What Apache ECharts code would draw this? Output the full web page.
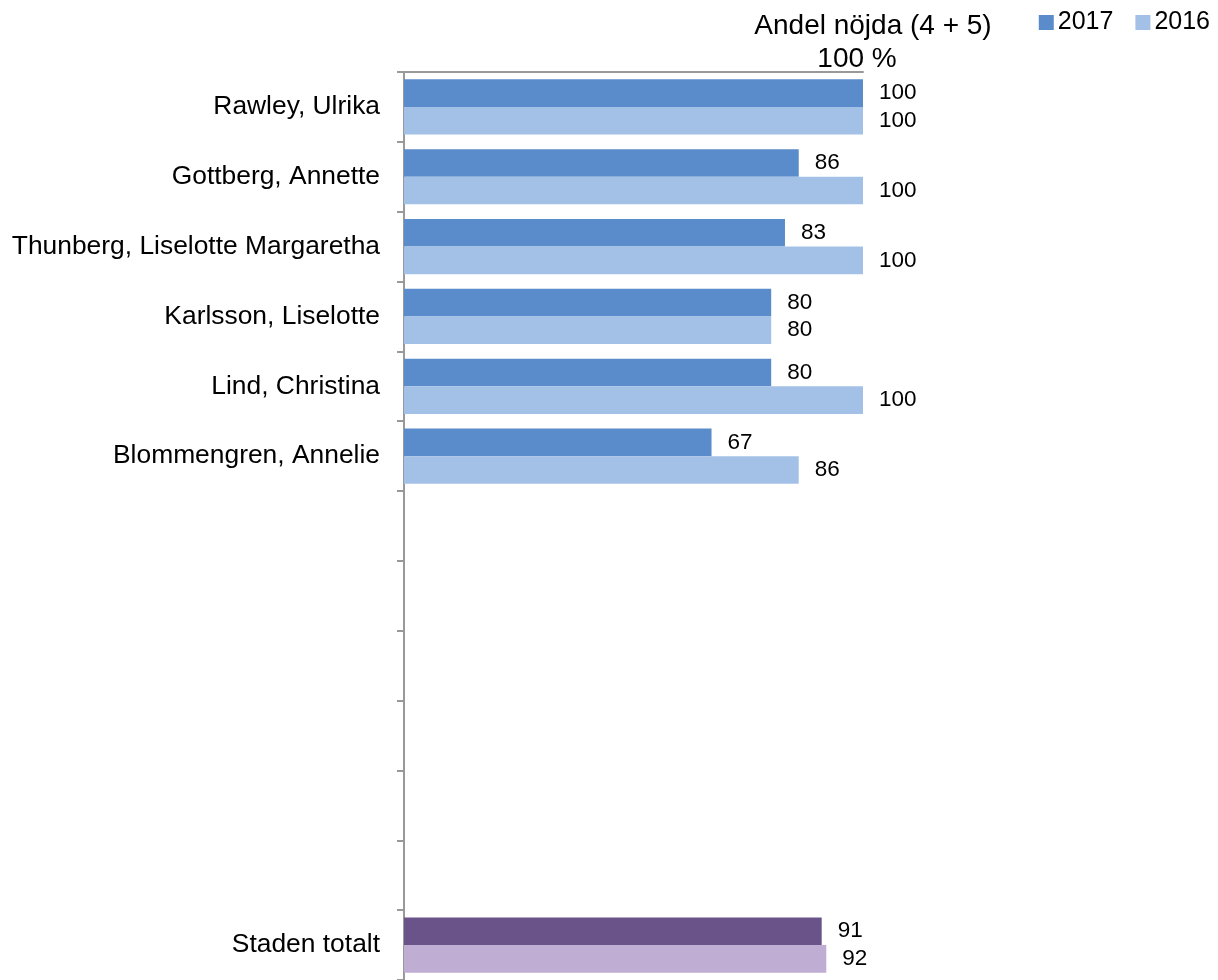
<!DOCTYPE html>
<html><head><meta charset="utf-8">
<script src="https://cdn.jsdelivr.net/npm/echarts@6/dist/echarts.min.js"></script>
<style>html,body{margin:0;padding:0;background:#fff}#c{width:1218px;height:980px}</style>
</head><body><div id="c"></div>
<script>
const categories = ["Rawley, Ulrika","Gottberg, Annette","Thunberg, Liselotte Margaretha","Karlsson, Liselotte","Lind, Christina","Blommengren, Annelie","","","","","","","Staden totalt"];
const values2017 = [100,86,83,80,80,67,null,null,null,null,null,null,91];
const values2016 = [100,100,100,80,100,86,null,null,null,null,null,null,92];
const seriesNames = ["2017","2016"];
const totalIndex = 12;

const c2017 = "#5A8BCB", c2016 = "#A3C1E6";
const p2017 = "#6A5389", p2016 = "#BFADD3";

function mk(vals, purple){
  return vals.map((v,i)=> i===totalIndex ? {value:v, itemStyle:{color:purple}} : v);
}
const font = "Liberation Sans, Arial, sans-serif";
const chart = echarts.init(document.getElementById('c'));
chart.setOption({
  animation:false,
  textStyle:{fontFamily:font},
  title:[
    {text:"Andel nöjda (4 + 5)", left:868, top:7, textAlign:'center', textStyle:{fontSize:28, fontWeight:'normal', color:'#000', fontFamily:font}},
    {text:"100 %", left:852, top:40, textAlign:'center', textStyle:{fontSize:28, fontWeight:'normal', color:'#000', fontFamily:font}}
  ],
  legend:{
    data:seriesNames, right:3, top:5, itemWidth:15, itemHeight:15, itemGap:22,
    icon:'rect', textStyle:{fontSize:25, color:'#000', fontFamily:font, padding:[0,0,0,-1]}
  },
  grid:{left:404, top:72, width:459, height:910, containLabel:false},
  xAxis:{type:'value', min:0, max:100, position:'top',
    axisLine:{show:true, lineStyle:{color:'#999', width:2}},
    axisTick:{show:false}, axisLabel:{show:false}, splitLine:{show:false}},
  yAxis:{type:'category', data:categories, inverse:true,
    axisLine:{lineStyle:{color:'#999', width:2}},
    axisTick:{show:true, length:7, lineStyle:{color:'#999', width:2}},
    axisLabel:{fontSize:26.4, color:'#000', margin:24, fontFamily:font}},
  series:[
    {name:"2017", type:'bar', data:mk(values2017,p2017), itemStyle:{color:c2017},
     barGap:'0%', barCategoryGap:'21%',
     label:{show:true, position:'right', distance:16, fontSize:22.5, color:'#000', fontFamily:font, padding:[3,0,0,0]}},
    {name:"2016", type:'bar', data:mk(values2016,p2016), itemStyle:{color:c2016},
     barGap:'0%', barCategoryGap:'21%',
     label:{show:true, position:'right', distance:16, fontSize:22.5, color:'#000', fontFamily:font, padding:[3,0,0,0]}}
  ]
});
</script></body></html>
